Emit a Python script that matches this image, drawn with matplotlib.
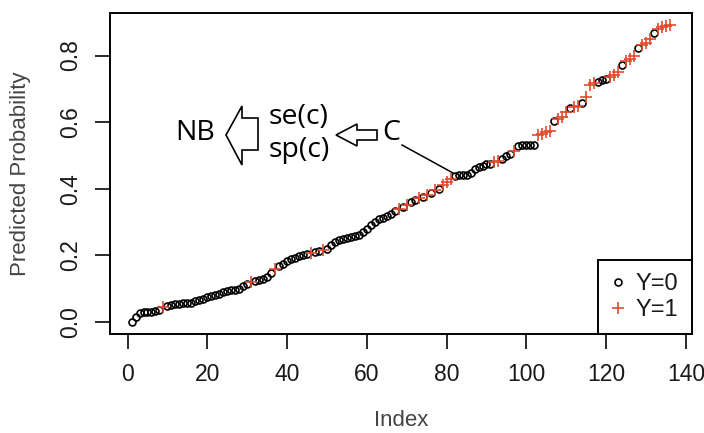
import matplotlib.pyplot as plt
import matplotlib.patches as mpatches
import numpy as np

# sorted predicted probabilities, index 1..136
pred_prob = [
    0.000, 0.015, 0.027, 0.029, 0.030, 0.031, 0.034, 0.037, 0.045, 0.048,
    0.052, 0.054, 0.055, 0.056, 0.056, 0.058, 0.062, 0.066, 0.070, 0.076,
    0.079, 0.080, 0.085, 0.090, 0.092, 0.095, 0.097, 0.100, 0.108, 0.115,
    0.120, 0.123, 0.126, 0.130, 0.135, 0.148, 0.160, 0.168, 0.175, 0.182,
    0.188, 0.193, 0.197, 0.200, 0.203, 0.207, 0.210, 0.212, 0.215, 0.220,
    0.230, 0.240, 0.245, 0.248, 0.252, 0.255, 0.258, 0.262, 0.270, 0.278,
    0.290, 0.300, 0.308, 0.312, 0.318, 0.325, 0.332, 0.340, 0.346, 0.352,
    0.360, 0.366, 0.372, 0.376, 0.380, 0.388, 0.395, 0.400, 0.410, 0.420,
    0.428, 0.438, 0.440, 0.441, 0.442, 0.448, 0.460, 0.465, 0.470, 0.474,
    0.476, 0.480, 0.484, 0.490, 0.500, 0.506, 0.514, 0.528, 0.531, 0.531,
    0.531, 0.531, 0.562, 0.566, 0.570, 0.575, 0.605, 0.610, 0.615, 0.630,
    0.643, 0.645, 0.650, 0.657, 0.675, 0.712, 0.717, 0.722, 0.727, 0.729,
    0.735, 0.742, 0.750, 0.772, 0.785, 0.790, 0.800, 0.824, 0.832, 0.838,
    0.850, 0.867, 0.880, 0.886, 0.890, 0.892,
]

# indices (1-based) where the outcome is Y=1
y1_index = [9, 31, 37, 46, 49, 68, 70, 73, 75, 77, 79, 80, 81, 92, 93, 97,
            103, 104, 105, 106, 108, 109, 110, 112, 113, 115, 116, 117,
            121, 122, 123, 125, 126, 127, 129, 130, 131, 133, 134, 135, 136]

x_ticks = [0, 20, 40, 60, 80, 100, 120, 140]
y_ticks = [0.0, 0.2, 0.4, 0.6, 0.8]

RED = '#e04a2f'
W, H = 704, 433

idx = np.arange(1, len(pred_prob) + 1)
prob = np.array(pred_prob)
is1 = np.isin(idx, y1_index)

plt.rcParams['font.family'] = ['Liberation Sans', 'DejaVu Sans']
fig = plt.figure(figsize=(W / 100, H / 100), dpi=100)
ax = fig.add_axes([110 / W, 1 - 334 / H, (691.5 - 110) / W, (334 - 13) / H])

ax.plot(idx[~is1], prob[~is1], 'o', mfc='none', mec='black', ms=5.0, mew=1.2,
        label='Y=0', linestyle='none')
ax.plot(idx[is1], prob[is1], '+', color=RED, ms=8.5, mew=1.2,
        label='Y=1', linestyle='none')

# R-style 4% padding
ax.set_xlim(1 - 0.04 * 135, 136 + 0.04 * 135)
ax.set_ylim(-0.04 * 0.892, 0.892 * 1.04)
ax.set_xticks(x_ticks)
ax.set_yticks(y_ticks)
ax.set_yticklabels([f'{v:.1f}' for v in y_ticks], rotation=90, va='center')
ax.tick_params(length=11, width=1.3, labelsize=16.5, colors='#1a1a1a', pad=10)
ax.tick_params(axis='y', pad=9)
for s in ax.spines.values():
    s.set_linewidth(1.4)

ax.set_xlabel('Index', fontsize=16, color='#444444', labelpad=17)
ax.set_ylabel('Predicted Probability', fontsize=16, color='#444444', labelpad=20)

leg = ax.legend(loc='lower right', borderaxespad=0, fancybox=False,
                edgecolor='black', framealpha=1, fontsize=17,
                handlelength=0.6, handletextpad=0.45, borderpad=0.55,
                labelspacing=0.15, markerscale=1.0)
leg.get_frame().set_linewidth(1.4)
for t in leg.get_texts():
    t.set_color('#1a1a1a')


def fp(px, py):
    return (px / W, 1 - py / H)


# block arrows (pixel outlines of the annotation shapes)
big = [fp(226, 135), fp(242, 106), fp(242, 118), fp(258, 118),
       fp(258, 150), fp(242, 150), fp(242, 165)]
small = [fp(336, 135), fp(357, 124), fp(357, 130), fp(377, 130),
         fp(377, 140), fp(357, 140), fp(357, 146)]
for pts in (big, small):
    fig.patches.append(mpatches.Polygon(pts, closed=True, fc='white', ec='black',
                                        lw=1.2, transform=fig.transFigure))

tfont = dict(family=['Open Sans', 'DejaVu Sans'], fontsize=20.5, color='black')
fig.text(*fp(195, 133), 'NB', ha='center', va='center', **tfont)
fig.text(*fp(299, 117), 'se(c)', ha='center', va='center', **tfont)
fig.text(*fp(299, 150), 'sp(c)', ha='center', va='center', **tfont)
fig.text(*fp(391, 133), 'C', ha='center', va='center', **tfont)
fig.lines.append(plt.Line2D([402 / W, 453 / W], [1 - 145 / H, 1 - 173 / H],
                            color='black', lw=1.1, transform=fig.transFigure))

fig.savefig('out.png', dpi=100)
